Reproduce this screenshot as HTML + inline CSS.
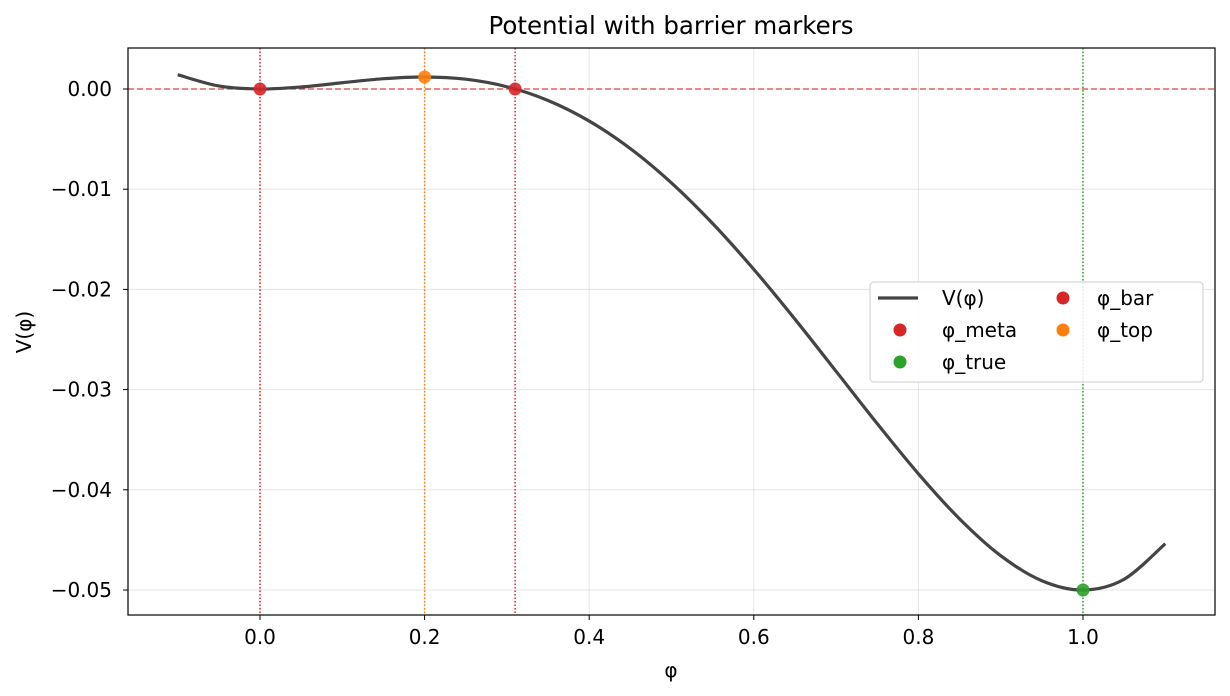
<!DOCTYPE html>
<html><head><meta charset="utf-8"><style>
body{margin:0;background:#fff;}
svg{display:block;font-family:"DejaVu Sans","Liberation Sans",sans-serif;}
</style></head><body>
<svg id="chart" width="1230" height="696">
<rect width="1230" height="696" fill="#fff"/>
<text x="671" y="34" font-size="24.5" text-anchor="middle">Potential with barrier markers</text>
<g id="grid"></g><g id="vlines"></g><g id="curve"></g><g id="markers"></g>
<rect x="128" y="48" width="1087" height="567" fill="none" stroke="#000" stroke-width="1.2"/>
<g id="ticks"></g>
<text x="671" y="677" font-size="20" text-anchor="middle">φ</text>
<text x="31" y="332" font-size="20" text-anchor="middle" transform="rotate(-90 31 332)">V(φ)</text>
<g font-size="20">
<rect x="870" y="282" width="333" height="100" rx="4" fill="#fff" fill-opacity="0.85" stroke="#ccc"/>
<line x1="878" y1="298" x2="918" y2="298" stroke="#444" stroke-width="3.2"/>
<text x="942" y="305">V(φ)</text>
<circle cx="900" cy="330" r="6.5" fill="#d62728"/><text x="942" y="337">φ_meta</text>
<circle cx="900" cy="362" r="6.5" fill="#2ca02c"/><text x="942" y="369">φ_true</text>
<circle cx="1063" cy="298" r="6.5" fill="#d62728"/><text x="1097" y="305">φ_bar</text>
<circle cx="1063" cy="330" r="6.5" fill="#ff7f0e"/><text x="1097" y="337">φ_top</text>
</g>
</svg>
<script>
const phiSamples=[-0.10,-0.05,0,0.05,0.10,0.15,0.20,0.25,0.30,0.35,0.40,0.45,0.50,0.55,0.60,0.65,0.70,0.75,0.80,0.85,0.90,0.95,1.00,1.05,1.10];
const vSamples=[0.001425,0.000302,0,0.000202,0.000625,0.001027,0.0012,0.000977,0.000225,-0.001148,-0.0032,-0.005948,-0.009375,-0.013423,-0.018,-0.022973,-0.028175,-0.033398,-0.0384,-0.042898,-0.046575,-0.049073,-0.05,-0.048923,-0.045375];
const markerNames=["phi-meta","phi-top","phi-bar","phi-true"];
const markerPhi=[0,0.2,0.31,1.0];
const markerV=[0,0.0012,0,-0.05];
const markerColors=["#d62728","#ff7f0e","#d62728","#2ca02c"];
const xTicks=[0,0.2,0.4,0.6,0.8,1.0];
const xTickLabels=["0.0","0.2","0.4","0.6","0.8","1.0"];
const yTicks=[0,-0.01,-0.02,-0.03,-0.04,-0.05];
const yTickLabels=["0.00","−0.01","−0.02","−0.03","−0.04","−0.05"];
const NS="http://www.w3.org/2000/svg";
const X=v=>260+v*823, Y=v=>89-v*10020;
function mk(p,t,a){const e=document.createElementNS(NS,t);for(const k in a)e.setAttribute(k,a[k]);document.getElementById(p).appendChild(e);return e;}
xTicks.forEach((t,i)=>{
 const g=mk("grid","line",{x1:X(t),x2:X(t),y1:48,y2:615,stroke:"#000","stroke-opacity":0.1});
 
 
 mk("ticks","line",{x1:X(t),x2:X(t),y1:615,y2:620,stroke:"#000"});
 const tx=mk("ticks","text",{x:X(t),y:644,"font-size":20,"text-anchor":"middle"});tx.textContent=xTickLabels[i];
 
 
});
yTicks.forEach((t,i)=>{
 const g=mk("grid","line",{x1:128,x2:1215,y1:Y(t),y2:Y(t),stroke:"#000","stroke-opacity":0.1});
 
 
 mk("ticks","line",{x1:123,x2:128,y1:Y(t),y2:Y(t),stroke:"#000"});
 const tx=mk("ticks","text",{x:112,y:Y(t)+7,"font-size":20,"text-anchor":"end"});tx.textContent=yTickLabels[i];
 
 
});
const h=mk("vlines","line",{x1:128,x2:1215,y1:Y(0),y2:Y(0),stroke:"#e03030","stroke-opacity":0.9,"stroke-dasharray":"6,3","stroke-width":1.3});


markerPhi.forEach((p,i)=>{
 const l=mk("vlines","line",{x1:X(p),x2:X(p),y1:48,y2:615,stroke:markerColors[i],"stroke-dasharray":"1.5,2","stroke-width":1.5});
 
 
 const c=mk("markers","circle",{cx:X(p),cy:Y(markerV[i]),r:6.5,fill:markerColors[i],"fill-opacity":0.9});
 
 
});
const P=phiSamples.map((p,i)=>[X(p),Y(vSamples[i])]);
let d="M"+P[0][0]+","+P[0][1];
for(let i=0;i<P.length-1;i++){
 const p0=P[Math.max(i-1,0)],p1=P[i],p2=P[i+1],p3=P[Math.min(i+2,P.length-1)];
 d+=` C${p1[0]+(p2[0]-p0[0])/6},${p1[1]+(p2[1]-p0[1])/6} ${p2[0]-(p3[0]-p1[0])/6},${p2[1]-(p3[1]-p1[1])/6} ${p2[0]},${p2[1]}`;
}
const cv=mk("curve","path",{d:d,fill:"none",stroke:"#444","stroke-width":3.2});


</script>
</body></html>
